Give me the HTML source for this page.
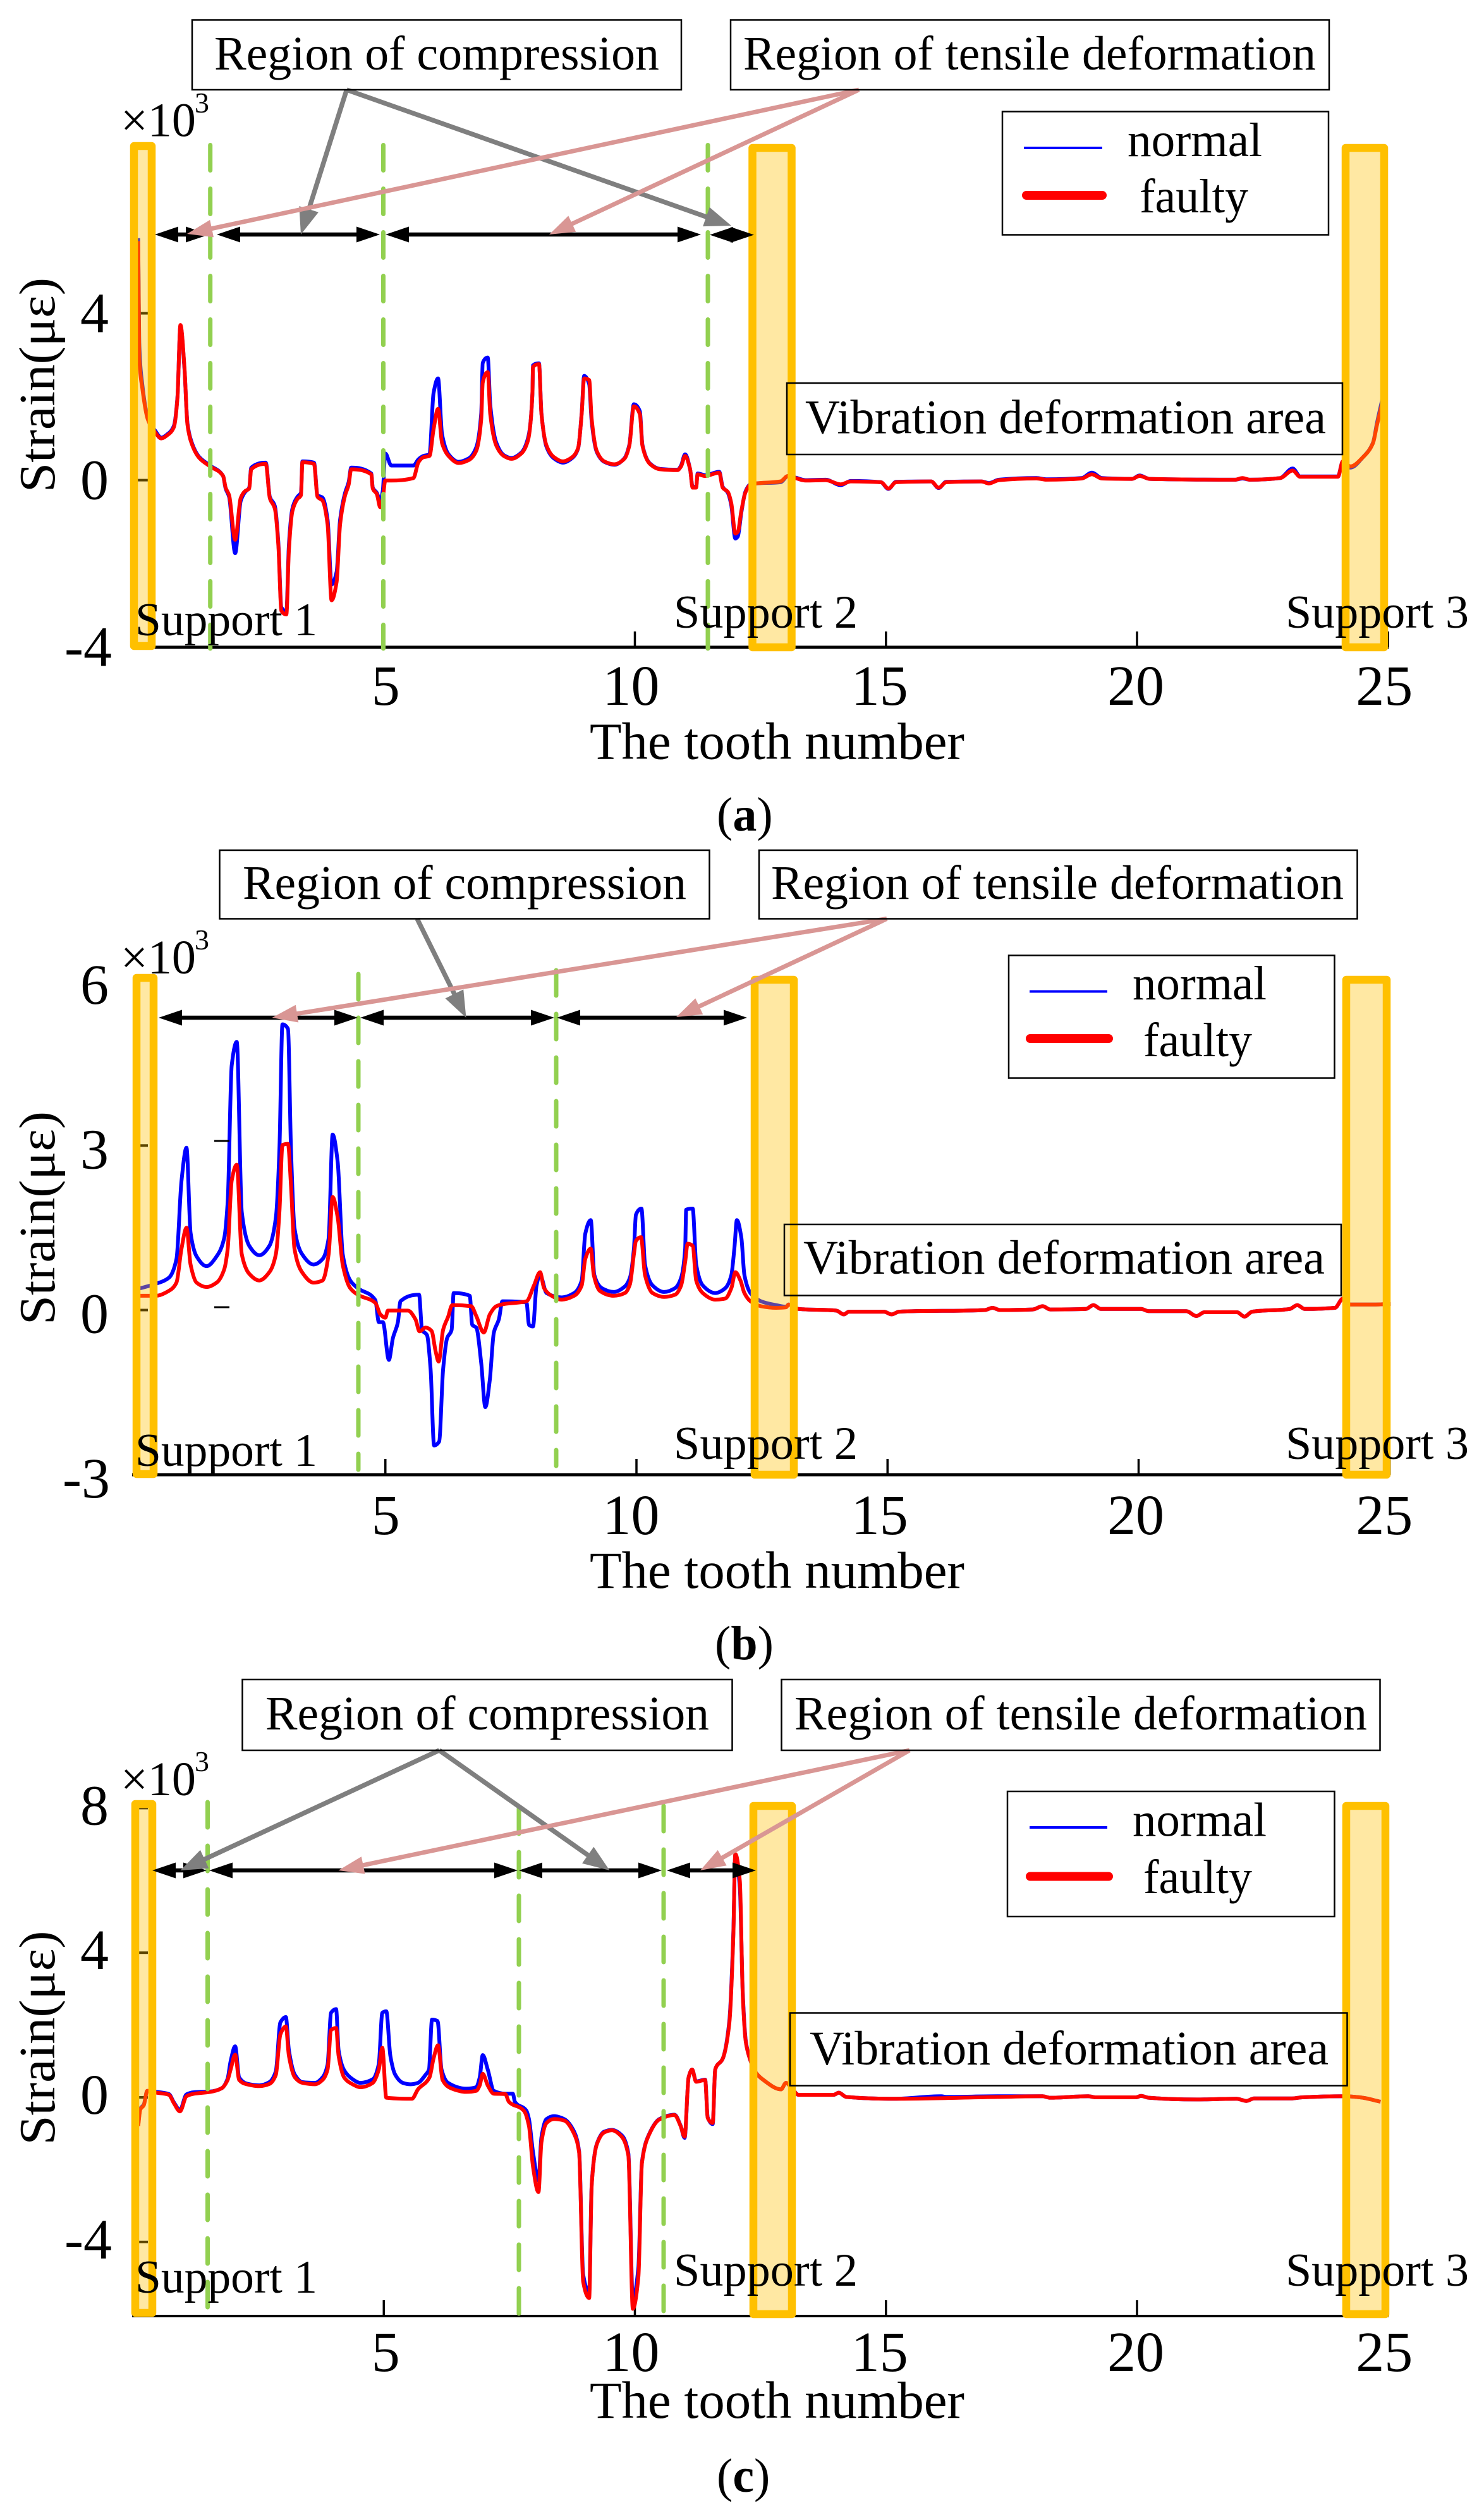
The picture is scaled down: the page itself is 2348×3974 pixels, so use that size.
<!DOCTYPE html>
<html lang="en">
<head>
<meta charset="utf-8">
<title>Tooth strain: normal vs faulty</title>
<style>
html,body{margin:0;padding:0;background:#fff;}
svg{display:block;}
text{font-family:"Liberation Serif","DejaVu Serif",serif;fill:#000;}
.box{fill:none;stroke:#000;stroke-width:2.5;}
.sup{fill:#ffc000;fill-opacity:.36;stroke:#ffc000;stroke-width:12.5;stroke-linejoin:round;stroke-opacity:1;}
.dash{stroke:#92d050;stroke-width:7;stroke-dasharray:40 29;stroke-linecap:round;}
.ann{font-size:76px;}
.sl{font-size:74px;}
.xt{font-size:83px;}
.yt{font-size:80px;}
.cap{font-size:76px;}
</style>
</head>
<body>
<svg xmlns="http://www.w3.org/2000/svg" width="2348" height="3974" viewBox="0 0 2348 3974">
<rect width="2348" height="3974" fill="#fff"/>

<!-- PANEL A -->
<g id="panel-a">
  <g id="marks-a"></g>
  <rect class="sup" x="212" y="231" width="28" height="791"/>
  <rect class="sup" x="1190.5" y="234" width="62" height="790"/>
  <rect class="sup" x="2129" y="234" width="61" height="790"/>
  <line class="dash" x1="332.7" x2="332.7" y1="229.5" y2="1026"/>
  <line class="dash" x1="606.5" x2="606.5" y1="229.5" y2="1026"/>
  <line class="dash" x1="1120" x2="1120" y1="229.5" y2="1026"/>
  <g id="arrows-a"></g>
  <rect class="box" x="304" y="31.5" width="774" height="110.5" fill="none"/>
  <text class="ann" x="339" y="110" textLength="704" lengthAdjust="spacingAndGlyphs">Region of compression</text>
  <rect class="box" x="1156" y="31.5" width="947" height="110.5"/>
  <text class="ann" x="1176" y="110" textLength="906" lengthAdjust="spacingAndGlyphs">Region of tensile deformation</text>
  <rect class="box" x="1586" y="176.5" width="516" height="195"/>
  <line x1="1620" x2="1744" y1="234" y2="234" stroke="#0000ff" stroke-width="4"/>
  <line x1="1624" x2="1744" y1="309" y2="309" stroke="#ff0000" stroke-width="14" stroke-linecap="round"/>
  <text class="ann" x="1784" y="247" textLength="213" lengthAdjust="spacingAndGlyphs">normal</text>
  <text class="ann" x="1803" y="336" textLength="172" lengthAdjust="spacingAndGlyphs">faulty</text>
  <rect class="box" x="1245" y="606" width="879" height="113"/>
  <text class="ann" x="1274" y="685.5" textLength="824" lengthAdjust="spacingAndGlyphs">Vibration deformation area</text>
  <text class="sl" x="214" y="1005" textLength="288" lengthAdjust="spacingAndGlyphs">Support 1</text>
  <text class="sl" x="1066" y="993" textLength="291" lengthAdjust="spacingAndGlyphs">Support 2</text>
  <text class="sl" x="2034" y="993" textLength="290" lengthAdjust="spacingAndGlyphs">Support 3</text>
  <text x="191" y="215.5" font-size="76">×10</text>
  <text x="308" y="178" font-size="46">3</text>
  <text class="yt" transform="translate(86 609) rotate(-90)" text-anchor="middle" textLength="340" lengthAdjust="spacingAndGlyphs">Strain(με)</text>
  <text class="xt" x="933" y="1200.5" textLength="593" lengthAdjust="spacingAndGlyphs">The tooth number</text>
  <text class="cap" x="1134" y="1314">(<tspan font-weight="bold">a</tspan>)</text>
</g>

<!-- PANEL B -->
<g id="panel-b">
  <g id="marks-b"></g>
  <line x1="339" x2="363" y1="1805" y2="1805" stroke="#000" stroke-width="3"/>
  <line x1="339" x2="363" y1="2068" y2="2068" stroke="#000" stroke-width="3"/>
  <rect class="sup" x="216" y="1547" width="27" height="785"/>
  <rect class="sup" x="1194" y="1550" width="62" height="783"/>
  <rect class="sup" x="2130" y="1550" width="64" height="783"/>
  <line class="dash" x1="567" x2="567" y1="1541" y2="2325"/>
  <line class="dash" x1="880" x2="880" y1="1535" y2="2319"/>
  <g id="arrows-b"></g>
  <rect class="box" x="347.5" y="1345" width="775" height="108.5"/>
  <text class="ann" x="384" y="1422" textLength="702" lengthAdjust="spacingAndGlyphs">Region of compression</text>
  <rect class="box" x="1201" y="1345" width="946.5" height="108.5"/>
  <text class="ann" x="1220" y="1422" textLength="906" lengthAdjust="spacingAndGlyphs">Region of tensile deformation</text>
  <rect class="box" x="1596" y="1511.5" width="515.5" height="194"/>
  <line x1="1629" x2="1752" y1="1568.5" y2="1568.5" stroke="#0000ff" stroke-width="4"/>
  <line x1="1630" x2="1754" y1="1643" y2="1643" stroke="#ff0000" stroke-width="14" stroke-linecap="round"/>
  <text class="ann" x="1792" y="1581" textLength="212" lengthAdjust="spacingAndGlyphs">normal</text>
  <text class="ann" x="1809" y="1671" textLength="172" lengthAdjust="spacingAndGlyphs">faulty</text>
  <rect class="box" x="1241" y="1937" width="881" height="112.5"/>
  <text class="ann" x="1271" y="2015" textLength="825" lengthAdjust="spacingAndGlyphs">Vibration deformation area</text>
  <text class="sl" x="214" y="2319" textLength="288" lengthAdjust="spacingAndGlyphs">Support 1</text>
  <text class="sl" x="1066" y="2308" textLength="291" lengthAdjust="spacingAndGlyphs">Support 2</text>
  <text class="sl" x="2034" y="2308" textLength="290" lengthAdjust="spacingAndGlyphs">Support 3</text>
  <text x="191" y="1540" font-size="76">×10</text>
  <text x="308" y="1502" font-size="46">3</text>
  <text class="yt" transform="translate(86 1927) rotate(-90)" text-anchor="middle" textLength="338" lengthAdjust="spacingAndGlyphs">Strain(με)</text>
  <text class="xt" x="933" y="2512" textLength="593" lengthAdjust="spacingAndGlyphs">The tooth number</text>
  <text class="cap" x="1131" y="2625">(<tspan font-weight="bold">b</tspan>)</text>
</g>

<!-- PANEL C -->
<g id="panel-c">
  <g id="marks-c"></g>
  <rect class="sup" x="214" y="2854" width="27" height="805"/>
  <rect class="sup" x="1192" y="2857" width="61" height="804"/>
  <rect class="sup" x="2130" y="2857" width="62" height="804"/>
  <line class="dash" x1="328.5" x2="328.5" y1="2851" y2="3660"/>
  <line class="dash" x1="821" x2="821" y1="2861" y2="3662"/>
  <line class="dash" x1="1050" x2="1050" y1="2857" y2="3662"/>
  <g id="arrows-c"></g>
  <rect class="box" x="383.5" y="2657" width="775" height="112"/>
  <text class="ann" x="420" y="2736" textLength="702" lengthAdjust="spacingAndGlyphs">Region of compression</text>
  <rect class="box" x="1236.5" y="2657" width="947" height="112"/>
  <text class="ann" x="1257" y="2736" textLength="906" lengthAdjust="spacingAndGlyphs">Region of tensile deformation</text>
  <rect class="box" x="1594" y="2834" width="517.5" height="198"/>
  <line x1="1629" x2="1752" y1="2891" y2="2891" stroke="#0000ff" stroke-width="4"/>
  <line x1="1630" x2="1754" y1="2968.5" y2="2968.5" stroke="#ff0000" stroke-width="14" stroke-linecap="round"/>
  <text class="ann" x="1792" y="2904.5" textLength="212" lengthAdjust="spacingAndGlyphs">normal</text>
  <text class="ann" x="1809" y="2995" textLength="172" lengthAdjust="spacingAndGlyphs">faulty</text>
  <rect class="box" x="1250" y="3184.5" width="881.5" height="115"/>
  <text class="ann" x="1281" y="3266" textLength="821" lengthAdjust="spacingAndGlyphs">Vibration deformation area</text>
  <text class="sl" x="214" y="3627" textLength="288" lengthAdjust="spacingAndGlyphs">Support 1</text>
  <text class="sl" x="1066" y="3616" textLength="291" lengthAdjust="spacingAndGlyphs">Support 2</text>
  <text class="sl" x="2034" y="3616" textLength="290" lengthAdjust="spacingAndGlyphs">Support 3</text>
  <text x="191" y="2840" font-size="76">×10</text>
  <text x="308" y="2802" font-size="46">3</text>
  <text class="yt" transform="translate(86 3224) rotate(-90)" text-anchor="middle" textLength="339" lengthAdjust="spacingAndGlyphs">Strain(με)</text>
  <text class="xt" x="933" y="3825" textLength="593" lengthAdjust="spacingAndGlyphs">The tooth number</text>
  <text class="cap" x="1134" y="3942">(<tspan font-weight="bold">c</tspan>)</text>
</g>
</svg>

<script>
// ---------- Chart data (tooth number on x, strain in units of 10^3 micro-strain on y) ----------
const xTickValues = [5, 10, 15, 20, 25];
const yTicksA = [4, 0, -4];
const yTicksB = [6, 3, 0, -3];
const yTicksC = [8, 4, 0, -4];
const yTickMarksA = [4, 0];
const yTickMarksB = [3, 0];
const yTickMarksC = [8, 4, 0, -4];

const toothA = [
.11,.13,.19,.30,.45,.57,.69,.82,.89,.95,
1.03,1.09,1.17,1.32,1.54,1.80,1.85,1.92,2.04,2.15,
2.24,2.32,2.36,2.65,2.73,2.83,2.90,2.96,3.06,3.11,
3.18,3.28,3.35,3.38,3.61,3.68,3.78,3.88,3.96,4.06,
4.13,4.23,4.30,4.35,4.75,4.78,4.86,4.93,4.98,5.03,
5.15,5.59,5.69,5.79,5.91,5.99,6.08,6.16,6.29,6.49,
6.69,6.84,6.94,6.97,7.07,7.12,7.24,7.39,7.54,7.74,
7.87,7.96,7.97,8.09,8.14,8.24,8.39,8.57,8.74,8.87,
8.94,8.99,9.09,9.14,9.24,9.39,9.59,9.79,9.89,9.98,
10.10,10.15,10.30,10.50,10.85,10.92,11.00,11.10,11.15,11.22,
11.25,11.40,11.68,11.75,11.85,11.92,12.00,12.05,12.12,12.20,
12.30,12.40,12.90,13.05,13.20,13.40,13.80,14.10,14.30,14.90,
15.05,15.20,15.90,16.05,16.20,16.90,17.05,17.25,18.00,18.20,
18.90,19.10,19.30,19.90,20.05,20.25,21.95,22.10,22.25,22.85,
23.10,23.25,24.00,24.10,24.25,24.50,24.70,24.78,24.95];

const normalA = [
5.80,3.30,2.30,1.50,1.18,1.02,1.10,1.30,1.98,3.70,
2.68,1.36,.92,.56,.35,.10,-.20,-.40,-1.75,-.50,
-.28,-.18,.30,.42,-.40,-.62,-1.50,-3.05,-3.15,-1.55,
-.68,-.40,-.30,.45,.42,-.36,-.42,-.95,-2.50,-2.20,
-.95,-.30,-.05,.30,.16,-.18,-.30,-.50,-.25,.64,
.35,.35,.50,.58,.62,2.08,2.44,1.10,.62,.44,
.52,.78,1.60,2.81,2.94,1.80,.90,.60,.53,.66,
1.00,2.08,2.75,2.80,1.60,.80,.52,.42,.52,.76,
1.60,2.50,2.30,1.40,.68,.44,.37,.52,.85,1.82,
1.65,.85,.40,.27,.25,.35,.62,.26,-.16,-.16,
.16,.12,.20,-.16,-.30,-.60,-1.40,-1.35,-.78,-.28,
-.10,-.08,-.05,.10,.06,0,.01,-.12,-.02,-.05,
-.21,-.04,-.03,-.19,-.04,-.03,-.07,.01,.05,.02,
.05,.18,.05,.03,.11,.03,.01,.04,.01,.05,
.28,.09,.09,.45,.30,.55,.90,1.38,2.28];

const faultyA = [
5.73,2.96,2.21,1.46,1.14,1.00,1.08,1.27,1.96,3.72,
2.71,1.33,.89,.54,.33,.10,-.18,-.36,-1.43,-.43,
-.26,-.20,.26,.39,-.43,-.68,-1.56,-3.13,-3.22,-1.68,
-.74,-.45,-.36,.43,.39,-.40,-.49,-1.06,-2.88,-2.44,
-1.06,-.36,-.11,.26,.14,-.20,-.33,-.65,-.43,-.01,
-.01,.05,.43,.55,.58,1.21,1.71,.89,.58,.41,
.48,.70,1.46,2.34,2.59,1.58,.83,.58,.51,.64,
.95,2.08,2.71,2.78,1.58,.83,.55,.45,.54,.77,
1.58,2.44,2.40,1.46,.70,.45,.38,.51,.83,1.77,
1.58,.83,.39,.26,.24,.33,.58,.26,-.18,-.18,
.14,.10,.18,-.18,-.28,-.55,-1.28,-1.24,-.74,-.30,
-.11,-.08,-.03,.10,.05,-.01,0,-.10,-.03,-.05,
-.20,-.05,-.03,-.18,-.05,-.03,-.08,0,.04,.01,
.04,.14,.04,.03,.10,.03,.01,.05,.01,.05,
.23,.08,.08,.45,.33,.55,.89,1.33,2.15];

const toothNormalB = [
.09,.43,.69,.84,.94,1.04,1.12,1.24,1.44,1.64,
1.79,1.86,1.94,2.04,2.14,2.29,2.49,2.69,2.82,2.89,
2.95,3.06,3.12,3.19,3.34,3.57,3.75,3.87,3.95,4.05,
4.15,4.30,4.45,4.80,4.87,4.95,5.07,5.15,5.25,5.30,
5.67,5.73,5.83,5.90,5.97,6.07,6.15,6.23,6.32,6.36,
6.68,6.73,6.81,6.91,6.99,7.08,7.16,7.26,7.33,7.81,
7.86,7.94,8.01,8.08,8.21,8.51,8.76,8.91,8.98,9.09,
9.16,9.31,9.55,9.77,9.87,9.95,9.99,10.10,10.17,10.32,
10.55,10.77,10.89,10.97,10.99,11.12,11.19,11.32,11.57,11.77,
11.89,11.95,12.00,12.09,12.15,12.27,12.48,12.78,12.98,
13.03,13.23,13.98,14.13,14.23,14.93,15.08,15.23,16.94,17.09,
17.24,17.89,18.09,18.24,18.95,19.10,19.25,20.05,20.20,20.95,
21.15,21.31,21.96,22.11,22.26,23.01,23.16,23.31,23.91,24.07,
24.22,24.62,25.02];

const normalB = [
.39,.48,.59,.93,2.36,2.96,1.41,.98,.80,.98,
1.31,1.98,4.46,4.89,1.79,1.17,1.00,1.17,1.69,2.93,
5.21,5.13,2.93,1.50,1.02,.83,.93,1.31,3.20,2.70,
1.02,.54,.40,.18,-.22,-.22,-.91,-.51,-.22,.16,
.28,-.36,-.46,-1.08,-2.47,-2.40,-1.08,-.51,-.36,.31,
.26,-.27,-.32,-.98,-1.77,-1.27,-.41,-.17,.16,.14,
-.27,-.30,.45,.64,.31,.23,.31,.54,1.39,1.64,
.64,.40,.33,.43,.59,1.12,1.74,1.85,.83,.45,
.33,.40,.59,1.12,1.83,1.85,.83,.45,.31,.40,
.64,1.12,1.64,1.31,.64,.31,.16,.09,.06,
.10,.02,-.01,-.08,-.03,-.03,-.08,-.03,0,.04,
0,.01,.07,.01,.02,.09,.02,.02,-.02,-.02,
-.11,-.04,-.04,-.12,-.03,.02,.09,.02,.04,.21,
.10,.10,.11];

const toothFaultyB = [
.09,.43,.69,.84,.94,1.04,1.12,1.24,1.44,1.64,
1.79,1.86,1.94,2.04,2.14,2.29,2.49,2.69,2.82,2.89,
2.95,3.06,3.12,3.19,3.34,3.57,3.75,3.87,3.95,4.05,
4.15,4.30,4.45,4.80,4.90,5.00,5.05,5.45,5.60,5.68,
5.80,5.92,6.00,6.06,6.15,6.25,6.33,6.71,6.81,6.96,
7.08,7.21,7.36,7.81,7.96,8.08,8.16,8.31,8.51,8.76,
8.91,8.98,9.09,9.15,9.27,9.55,9.77,9.87,9.95,9.99,
10.09,10.17,10.32,10.55,10.77,10.89,10.97,11.02,11.12,11.19,
11.32,11.57,11.77,11.89,11.97,12.07,12.15,12.27,12.48,12.78,12.98,
13.03,13.23,13.98,14.13,14.23,14.93,15.08,15.23,16.94,17.09,
17.24,17.89,18.09,18.24,18.95,19.10,19.25,20.05,20.20,20.95,
21.15,21.31,21.96,22.11,22.26,23.01,23.16,23.31,23.91,24.07,
24.22,24.62,25.02];

const faultyB = [
.26,.26,.35,.50,1.12,1.50,.83,.50,.42,.50,
.74,1.12,2.36,2.65,1.02,.66,.54,.69,1.02,1.79,
3.01,3.03,2.27,1.12,.69,.50,.54,1.02,2.06,1.69,
.83,.40,.28,.13,-.08,-.14,-.01,-.01,-.17,-.39,
-.32,-.38,-.75,-.94,-.36,-.12,.09,.07,-.11,-.41,
-.08,.07,.11,.16,.45,.69,.40,.26,.19,.26,
.45,.93,1.12,.64,.35,.26,.31,.47,1.02,1.26,
1.33,.64,.31,.24,.28,.45,.88,1.21,1.17,.54,
.31,.19,.21,.40,.69,.54,.31,.16,.07,.04,.05,
.10,.02,-.01,-.08,-.03,-.03,-.08,-.03,0,.04,
0,.01,.07,.01,.02,.09,.02,.02,-.02,-.02,
-.11,-.04,-.04,-.12,-.03,.02,.09,.02,.04,.21,
.10,.10,.11];

const toothNormalC = [
.11,.15,.22,.29,.47,.72,.82,.94,1.07,1.22,
1.54,1.77,1.89,1.95,2.04,2.12,2.27,2.52,2.72,2.85,
2.94,3.05,3.11,3.23,3.38,3.63,3.78,3.88,3.95,4.05,
4.10,4.21,4.38,4.53,4.78,4.90,4.97,5.05,5.13,5.23,
5.38,5.53,5.68,5.83,5.90,5.96,6.07,6.15,6.28,6.64,
6.84,6.91,6.97,7.07,7.19,7.42,7.57,7.61,7.84,7.89,
7.97,8.08,8.14,8.24,8.39,8.59,8.79,8.89,8.97,9.09,
9.14,9.24,9.39,9.54,9.74,9.87,9.96,10.07,10.14,10.29,
10.49,10.79,10.91,10.99,11.07,11.14,11.22,11.40,11.45,11.55,
11.60,11.75,11.88,11.96,12.00,12.09,12.15,12.21,12.29,12.40,
12.56,12.91,13.01,13.11,13.26,13.96,14.06,14.21,15.17,16.1,
16.2,17.22,18.12,18.27,19.03,19.18,19.98,20.08,20.23,21.19,
21.98,22.18,22.33,23.09,23.29,24.14,24.44,24.85];

const normalC = [
-.75,-.32,-.20,.18,.15,.09,-.14,-.35,.08,.14,
.16,.25,.52,1.0,1.41,.55,.38,.33,.42,.72,
2.07,2.22,1.3,.62,.42,.40,.55,.9,2.34,2.44,
1.3,.75,.5,.40,.50,.92,2.34,2.38,1.15,.62,
.40,.36,.40,.62,.77,2.15,2.11,.77,.40,.24,
.28,.55,1.17,.77,.18,.10,.10,-.12,-.37,-.6,
-1.5,-2.3,-1.1,-.6,-.52,-.6,-.95,-1.5,-4.9,-5.4,
-2.4,-1.3,-.95,-.9,-1.05,-1.55,-5.6,-4.7,-1.8,-1.0,
-.6,-.48,-.78,-1.12,.55,.77,.44,.49,-.55,-.74,
.77,1.07,2.10,4.5,6.7,5.8,2.85,1.55,1.07,.70,
.48,.22,.40,.28,.07,.07,.13,.01,-.04,.03,
.01,.03,.03,-.01,.03,0,0,.04,-.01,-.06,
-.04,-.10,-.03,-.03,0,.03,0,-.12];

const toothFaultyC = [
.11,.15,.22,.29,.47,.72,.82,.94,1.07,1.22,
1.54,1.77,1.89,1.95,2.04,2.12,2.27,2.52,2.72,2.85,
2.94,3.05,3.11,3.23,3.38,3.63,3.78,3.88,3.95,4.05,
4.10,4.21,4.38,4.53,4.78,4.90,4.97,5.05,5.56,5.68,
5.91,5.99,6.08,6.17,6.34,6.64,6.84,6.91,6.97,7.07,
7.19,7.42,7.49,7.79,7.89,7.97,8.08,8.14,8.24,8.39,
8.59,8.79,8.89,8.97,9.09,9.14,9.24,9.39,9.54,9.74,
9.87,9.96,10.07,10.14,10.29,10.49,10.79,10.91,10.99,11.07,
11.14,11.22,11.40,11.45,11.55,11.60,11.75,11.88,11.96,12.00,
12.09,12.15,12.21,12.29,12.40,12.56,12.91,13.01,13.11,13.26,
13.96,14.06,14.21,15.17,17.22,18.12,18.27,19.03,19.18,19.98,
20.08,20.23,21.19,21.98,22.18,22.33,23.09,23.29,24.14,24.44,24.85];

const faultyC = [
-.79,-.34,-.22,.18,.13,.07,-.16,-.39,.03,.10,
.15,.25,.48,.77,1.18,.48,.36,.31,.37,.62,
1.74,1.96,1.15,.55,.40,.36,.48,.77,1.86,1.92,
1.15,.55,.36,.28,.40,.77,1.37,-.01,-.04,.22,
.55,1.07,1.44,.48,.25,.15,.18,.33,.65,.33,
.10,.09,-.12,-.37,-.79,-1.90,-2.62,-1.24,-.71,-.60,
-.64,-1.01,-1.53,-5.10,-5.55,-2.43,-1.31,-.97,-.91,-1.09,
-1.61,-5.85,-4.96,-1.83,-1.01,-.61,-.49,-.79,-1.09,.55,
.77,.43,.48,-.57,-.71,.77,1.07,2.04,4.42,6.73,
5.98,2.78,1.52,1.07,.70,.48,.22,.40,.28,.07,
.07,.13,.01,-.04,.01,.03,-.01,.03,0,0,
.04,-.01,-.06,-.04,-.10,-.03,-.03,0,.03,0,-.12];

// ---------- Axis functions ----------
const TOOTH_PX = 79.45;
function xAxisA(t) { return 210 + TOOTH_PX * t; }
function xAxisB(t) { return 212.5 + TOOTH_PX * t; }
function xAxisC(t) { return 210 + TOOTH_PX * t; }
function yAxisA(v) { return 759.6 - 66 * v; }
function yAxisB(v) { return 2072.5 - 86.75 * v; }
function yAxisC(v) { return 3318 - 57.2 * v; }
function xLabelCentre(t) {
  const nudge = {5: 3, 10: -6, 15: -10, 20: -2, 25: -6};
  return xAxisA(t) + nudge[t];
}

const SVG_NS = 'http://www.w3.org/2000/svg';
function make(parent, tag, attrs) {
  const node = document.createElementNS(SVG_NS, tag);
  for (const k in attrs) node.setAttribute(k, attrs[k]);
  parent.appendChild(node);
  return node;
}

// Monotone cubic path: rounds the valleys without overshooting the spikes.
function curvePath(xs, ys) {
  const n = xs.length;
  const slope = [];
  for (let i = 0; i < n - 1; i++) slope.push((ys[i + 1] - ys[i]) / (xs[i + 1] - xs[i]));
  const tan = [slope[0]];
  for (let i = 1; i < n - 1; i++) {
    const a = slope[i - 1], b = slope[i];
    if (a * b <= 0) { tan.push(0); continue; }
    const h0 = xs[i] - xs[i - 1], h1 = xs[i + 1] - xs[i];
    tan.push(3 * (h0 + h1) / ((2 * h1 + h0) / a + (h1 + 2 * h0) / b));
  }
  tan.push(slope[n - 2]);
  let d = 'M' + xs[0].toFixed(1) + ' ' + ys[0].toFixed(1);
  for (let i = 0; i < n - 1; i++) {
    const h = (xs[i + 1] - xs[i]) / 3;
    d += 'C' + (xs[i] + h).toFixed(1) + ' ' + (ys[i] + tan[i] * h).toFixed(1) + ' ' +
         (xs[i + 1] - h).toFixed(1) + ' ' + (ys[i + 1] - tan[i + 1] * h).toFixed(1) + ' ' +
         xs[i + 1].toFixed(1) + ' ' + ys[i + 1].toFixed(1);
  }
  return d;
}

function drawSeries(group, xf, yf, teeth, values, colour, name) {
  const n = Math.min(teeth.length, values.length);
  const xs = [], ys = [];
  for (let i = 0; i < n; i++) { xs.push(xf(teeth[i])); ys.push(yf(values[i])); }
  const line = make(group, 'path', {d: curvePath(xs, ys), fill: 'none', stroke: colour, 'stroke-width': 6, 'stroke-linejoin': 'round'});
  
  
}

function drawAxes(group, xf, yf, opts) {
  const axisY = opts.axisY;
  const axis = make(group, 'line', {x1: 209, x2: xf(25) + 1, y1: axisY, y2: axisY, stroke: '#000', 'stroke-width': opts.axisWidth});
  
  
  xTickValues.forEach(function (t) {
    const tick = make(group, 'line', {x1: xf(t), x2: xf(t), y1: axisY, y2: axisY - 25, stroke: '#000', 'stroke-width': 3.5});
    
    
    const label = make(group, 'text', {x: xLabelCentre(t), y: opts.xLabelY, 'text-anchor': 'middle', 'font-size': 90});
    label.textContent = String(t);
    
    
  });
  opts.yMarks.forEach(function (v) {
    const tick = make(group, 'line', {x1: 218, x2: 234, y1: yf(v), y2: yf(v), stroke: '#000', 'stroke-width': 4});
    
    
  });
  opts.yLabels.forEach(function (v) {
    const label = make(group, 'text', {x: v < 0 ? opts.negX : 172, y: yf(v) + opts.yShift, 'text-anchor': 'end', 'font-size': 90});
    label.textContent = String(v);
    
    
  });
}

function arrow(group, x1, y1, x2, y2, colour, width, len, half, name) {
  const dx = x2 - x1, dy = y2 - y1, L = Math.hypot(dx, dy), ux = dx / L, uy = dy / L;
  const bx = x2 - ux * len * 0.9, by = y2 - uy * len * 0.9;
  const shaft = make(group, 'line', {x1: x1, y1: y1, x2: bx, y2: by, stroke: colour, 'stroke-width': width});
  
  
  const hx = x2 - ux * len, hy = y2 - uy * len;
  const pts = [x2, y2, hx - uy * half, hy + ux * half, hx + uy * half, hy - ux * half].map(function (n) { return n.toFixed(1); }).join(' ');
  const head = make(group, 'polygon', {points: pts, fill: colour});
  
  
}

function span(group, x1, x2, y, name) {
  arrow(group, (x1 + x2) / 2, y, x1, y, '#000', 6.5, 37, 12.5, name + '-left');
  arrow(group, (x1 + x2) / 2, y, x2, y, '#000', 6.5, 37, 12.5, name + '-right');
}

const GREY = '#7f7f7f', PINK = '#d99694';

// ---------- Panel A ----------
(function () {
  const g = document.getElementById('marks-a');
  drawAxes(g, xAxisA, yAxisA, {axisY: 1024, axisWidth: 5, xLabelY: 1115, yMarks: yTickMarksA, yLabels: yTicksA, yShift: 30, negX: 177});
  drawSeries(g, xAxisA, yAxisA, toothA, normalA, '#0000ff', 'normal-series');
  drawSeries(g, xAxisA, yAxisA, toothA, faultyA, '#ff0000', 'faulty-series');
  const a = document.getElementById('arrows-a');
  span(a, 245, 331, 371, 'span-1');
  span(a, 343, 601, 371, 'span-2');
  span(a, 610, 1109, 371, 'span-3');
  span(a, 1123, 1193, 371.5, 'span-4');
  arrow(a, 548.5, 142, 476, 371, GREY, 7.5, 42, 16, 'compression-arrow-1');
  arrow(a, 548.5, 142, 1157, 357, GREY, 7.5, 42, 16, 'compression-arrow-2');
  arrow(a, 1359, 142, 296, 370, PINK, 7, 40, 14, 'tensile-arrow-1');
  arrow(a, 1359, 142, 869, 371, PINK, 7, 40, 14, 'tensile-arrow-2');
})();

// ---------- Panel B ----------
(function () {
  const g = document.getElementById('marks-b');
  drawAxes(g, xAxisB, yAxisB, {axisY: 2333, axisWidth: 5, xLabelY: 2427, yMarks: yTickMarksB, yLabels: yTicksB, yShift: 36, negX: 174});
  drawSeries(g, xAxisB, yAxisB, toothNormalB, normalB, '#0000ff', 'normal-series');
  drawSeries(g, xAxisB, yAxisB, toothFaultyB, faultyB, '#ff0000', 'faulty-series');
  const a = document.getElementById('arrows-b');
  span(a, 251, 566, 1610, 'span-1');
  span(a, 570, 877, 1610, 'span-2');
  span(a, 881, 1182, 1610, 'span-3');
  arrow(a, 660, 1453.5, 737.5, 1610, GREY, 7.5, 42, 16, 'compression-arrow');
  arrow(a, 1403, 1453.5, 430.5, 1610, PINK, 7, 40, 14, 'tensile-arrow-1');
  arrow(a, 1403, 1453.5, 1070, 1609, PINK, 7, 40, 14, 'tensile-arrow-2');
})();

// ---------- Panel C ----------
(function () {
  const g = document.getElementById('marks-c');
  drawAxes(g, xAxisC, yAxisC, {axisY: 3664, axisWidth: 4, xLabelY: 3751, yMarks: yTickMarksC, yLabels: yTicksC, yShift: 26, negX: 177});
  drawSeries(g, xAxisC, yAxisC, toothNormalC, normalC, '#0000ff', 'normal-series');
  drawSeries(g, xAxisC, yAxisC, toothFaultyC, faultyC, '#ff0000', 'faulty-series');
  const a = document.getElementById('arrows-c');
  span(a, 241, 327, 2959, 'span-1');
  span(a, 331, 819, 2959, 'span-2');
  span(a, 821, 1047, 2959, 'span-3');
  span(a, 1055, 1196, 2959, 'span-4');
  arrow(a, 695, 2769, 285.5, 2959, GREY, 7.5, 42, 16, 'compression-arrow-1');
  arrow(a, 695, 2769, 964.5, 2959, GREY, 7.5, 42, 16, 'compression-arrow-2');
  arrow(a, 1439, 2769, 535.5, 2959, PINK, 7, 40, 14, 'tensile-arrow-1');
  arrow(a, 1439, 2769, 1108, 2959, PINK, 7, 40, 14, 'tensile-arrow-2');
})();
</script>
</body>
</html>
